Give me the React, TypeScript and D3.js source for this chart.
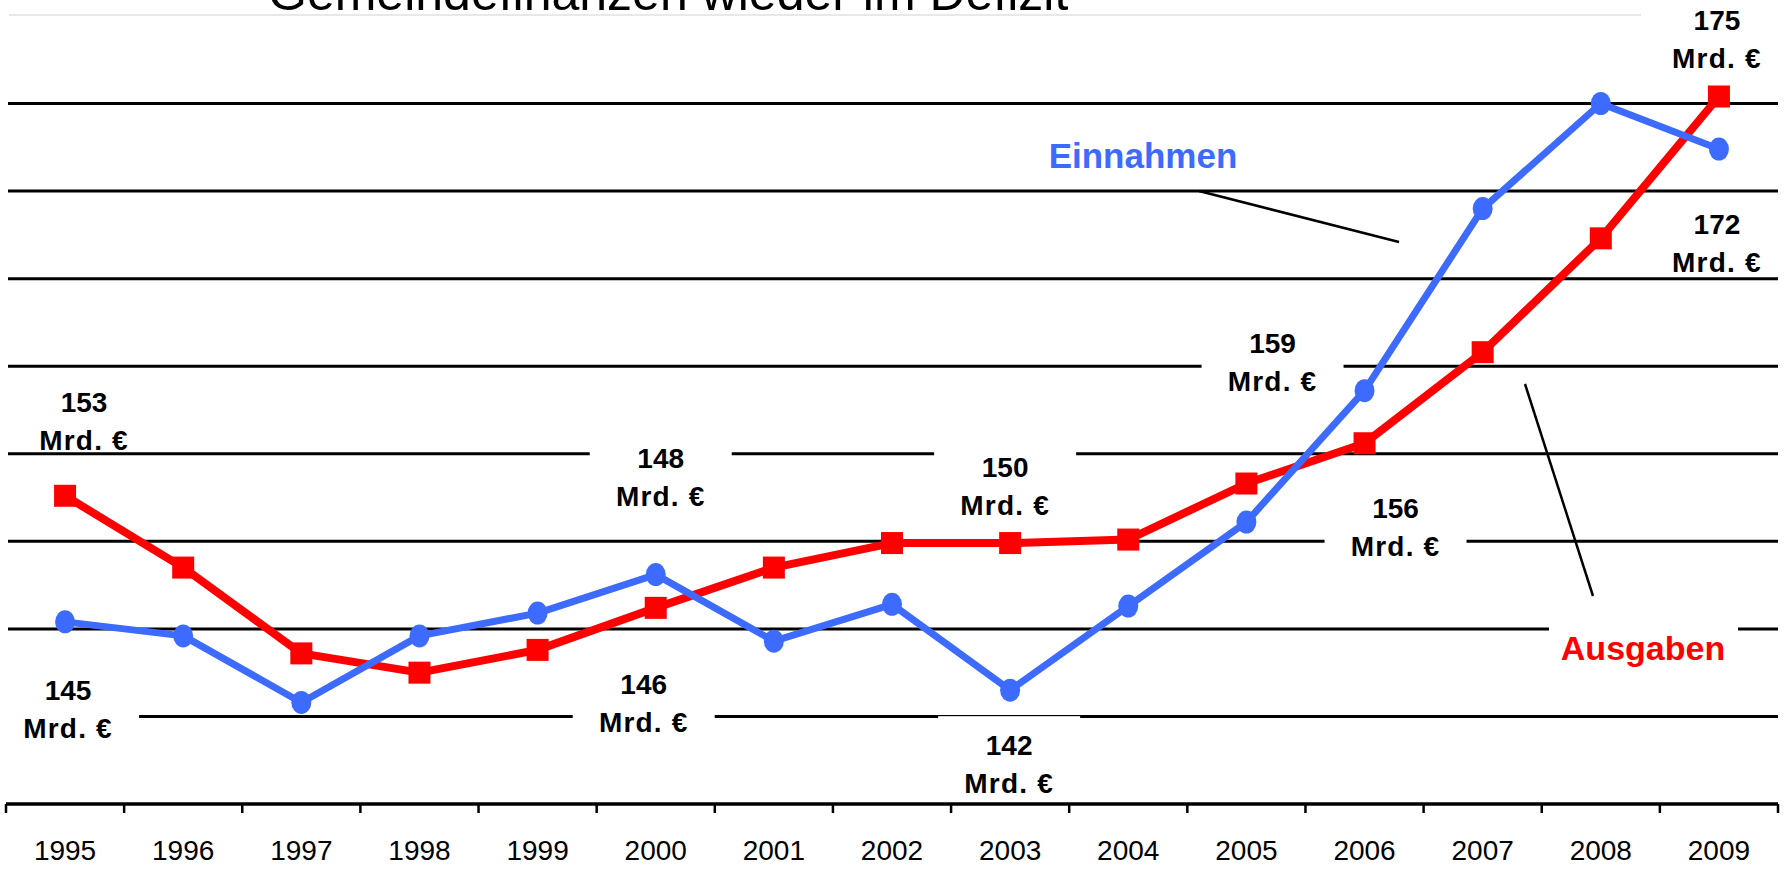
import { useEffect, useRef } from "react";
import * as d3 from "d3";

const years = ["1995", "1996", "1997", "1998", "1999", "2000", "2001", "2002", "2003", "2004", "2005", "2006", "2007", "2008", "2009"];
const einnahmen = [145.4, 144.6, 140.8, 144.6, 145.9, 148.1, 144.3, 146.4, 141.5, 146.3, 151.1, 158.6, 169.0, 175.0, 172.4];
const ausgaben = [152.6, 148.5, 143.6, 142.5, 143.8, 146.2, 148.5, 149.9, 149.9, 150.1, 153.3, 155.6, 160.8, 167.3, 175.4];
const gridValues = [140, 145, 150, 155, 160, 165, 170, 175];

const title = "Gemeindefinanzen wieder im Defizit";

// value callouts: year, which series, text
const callouts = [
    { year: "1995", series: "aus", text: "153", dx: 19, dy: -94 },
    { year: "1995", series: "ein", text: "145", dx: 3, dy: 68 },
    { year: "2000", series: "ein", text: "148", dx: 5, dy: -117 },
    { year: "2000", series: "aus", text: "146", dx: -12, dy: 76 },
    { year: "2003", series: "aus", text: "150", dx: -5, dy: -76 },
    { year: "2003", series: "ein", text: "142", dx: -1, dy: 55 },
    { year: "2006", series: "ein", text: "159", dx: -92, dy: -48 },
    { year: "2006", series: "aus", text: "156", dx: 31, dy: 65 },
    { year: "2009", series: "aus", text: "175", dx: -2, dy: -76 },
    { year: "2009", series: "ein", text: "172", dx: -2, dy: 75 },
];

const BLUE = "#3d6bff";
const RED = "#ff0000";

export default function App() {
    const ref = useRef<SVGSVGElement>(null);

    useEffect(() => {
        document.body.style.margin = "0";
        const width = 1787, height = 872;
        const svg = d3.select(ref.current);
        svg.selectAll("*").remove();

        const x = d3.scaleBand().domain(years).range([6, 1778]).padding(0);
        const cx = (yr: string) => (x(yr) as number) + x.bandwidth() / 2;
        const y = d3.scaleLinear().domain([135, 175]).range([804, 103.5]);

        // title, cut off at the top edge (as in the original slide)
        svg.append("text")
            .attr("x", 268).attr("y", 10)
            .attr("font-family", "Liberation Sans, Arial, sans-serif")
            .attr("font-size", 50)
            .attr("fill", "#000")
            .text(title);
        svg.append("line")
            .attr("x1", 9).attr("x2", 1641).attr("y1", 15).attr("y2", 15)
            .attr("stroke", "#e8e8e8").attr("stroke-width", 2);

        // horizontal grid
        svg.selectAll("line.grid")
            .data(gridValues)
            .enter()
            .append("line")
            .attr("class", "grid")
            .attr("x1", 8).attr("x2", 1778)
            .attr("y1", d => y(d)).attr("y2", d => y(d))
            .attr("stroke", "#000").attr("stroke-width", 3);

        // x axis
        const axis = svg.append("g").attr("transform", "translate(0," + y(135) + ")");
        axis.append("line").attr("x1", 6).attr("x2", 1778).attr("stroke", "#000").attr("stroke-width", 3.5);
        const tickPos = years.map(yr => x(yr) as number).concat([1778]);
        axis.selectAll("line.tick")
            .data(tickPos)
            .enter()
            .append("line")
            .attr("x1", d => d).attr("x2", d => d)
            .attr("y1", 0).attr("y2", 9)
            .attr("stroke", "#000").attr("stroke-width", 2.5);
        axis.selectAll("text")
            .data(years)
            .enter()
            .append("text")
            .attr("x", d => cx(d))
            .attr("y", 56)
            .attr("text-anchor", "middle")
            .attr("font-family", "Liberation Sans, Arial, sans-serif")
            .attr("font-size", 28)
            .text(d => d);

        const valueOf = (c: { year: string, series: string }) => {
            const i = years.indexOf(c.year);
            return c.series === "ein" ? einnahmen[i] : ausgaben[i];
        };

        // white boxes behind callouts (they cut the grid lines)
        svg.selectAll("rect.box")
            .data(callouts)
            .enter()
            .append("rect")
            .attr("x", d => cx(d.year) + d.dx - 71)
            .attr("y", d => y(valueOf(d)) + d.dy - 29)
            .attr("width", 142)
            .attr("height", 78)
            .attr("fill", "#fff");

        // box behind the Ausgaben legend
        svg.append("rect").attr("x", 1549).attr("y", 615).attr("width", 189).attr("height", 55).attr("fill", "#fff");

        // leader lines
        svg.append("line").attr("x1", 1199).attr("y1", 191).attr("x2", 1399).attr("y2", 242)
            .attr("stroke", "#000").attr("stroke-width", 2.5);
        svg.append("line").attr("x1", 1525).attr("y1", 384).attr("x2", 1593).attr("y2", 596)
            .attr("stroke", "#000").attr("stroke-width", 2.5);

        // lines
        const lineGen = d3.line<number>()
            .x((d, i) => cx(years[i]))
            .y(d => y(d));

        svg.append("path").datum(ausgaben)
            .attr("d", lineGen)
            .attr("fill", "none").attr("stroke", RED).attr("stroke-width", 8)
            .attr("stroke-linejoin", "round");
        svg.selectAll("rect.sq")
            .data(ausgaben)
            .enter()
            .append("rect")
            .attr("x", (d, i) => cx(years[i]) - 11)
            .attr("y", d => y(d) - 11)
            .attr("width", 22).attr("height", 22)
            .attr("fill", RED);

        svg.append("path").datum(einnahmen)
            .attr("d", lineGen)
            .attr("fill", "none").attr("stroke", BLUE).attr("stroke-width", 7)
            .attr("stroke-linejoin", "round");
        svg.selectAll("ellipse.dot")
            .data(einnahmen)
            .enter()
            .append("ellipse")
            .attr("cx", (d, i) => cx(years[i]))
            .attr("cy", d => y(d))
            .attr("rx", 10).attr("ry", 11.5)
            .attr("fill", BLUE);

        // callout texts
        const ct = svg.selectAll("text.callout")
            .data(callouts)
            .enter()
            .append("text")
            .attr("text-anchor", "middle")
            .attr("font-family", "Liberation Sans, Arial, sans-serif")
            .attr("font-weight", "bold")
            .attr("font-size", 28)
            .attr("fill", "#000");
        ct.append("tspan")
            .attr("x", d => cx(d.year) + d.dx)
            .attr("y", d => y(valueOf(d)) + d.dy + 10)
            .text(d => d.text);
        ct.append("tspan")
            .attr("x", d => cx(d.year) + d.dx)
            .attr("y", d => y(valueOf(d)) + d.dy + 48)
            .attr("letter-spacing", 1.2)
            .text("Mrd. €");

        svg.append("text")
            .attr("x", 1143).attr("y", 168)
            .attr("text-anchor", "middle")
            .attr("font-family", "Liberation Sans, Arial, sans-serif")
            .attr("font-weight", "bold").attr("font-size", 35)
            .attr("fill", BLUE)
            .text("Einnahmen");
        svg.append("text")
            .attr("x", 1643).attr("y", 660)
            .attr("text-anchor", "middle")
            .attr("font-family", "Liberation Sans, Arial, sans-serif")
            .attr("font-weight", "bold").attr("font-size", 34)
            .attr("fill", RED)
            .text("Ausgaben");

        svg.attr("width", width).attr("height", height);
    }, []);

    return <svg ref={ref} width={1787} height={872} style={{ display: "block", background: "#fff" }} />;
}
